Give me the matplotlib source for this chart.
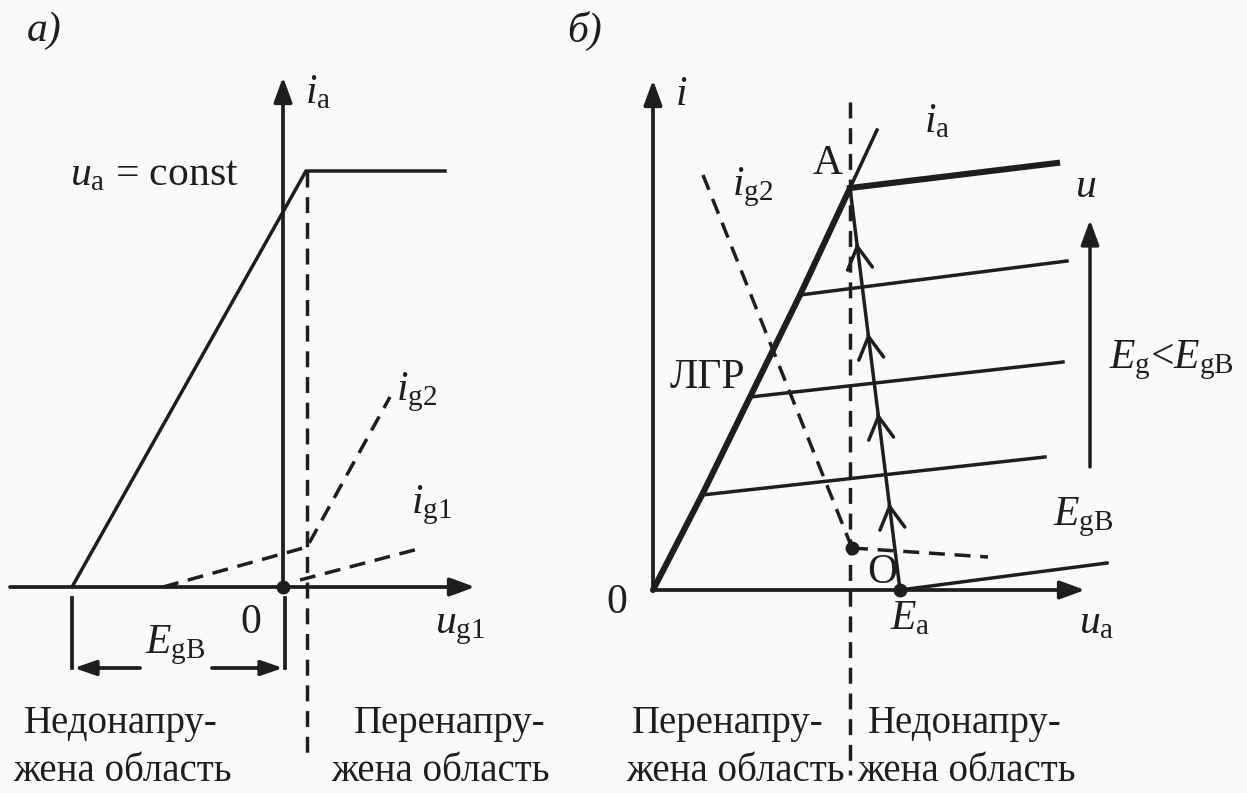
import matplotlib
matplotlib.use("Agg")
import matplotlib.pyplot as plt

plt.rcParams['font.family'] = ['Liberation Serif', 'DejaVu Serif']
plt.rcParams['mathtext.fontset'] = 'custom'
plt.rcParams['mathtext.rm'] = 'Liberation Serif'
plt.rcParams['mathtext.it'] = 'Liberation Serif:italic'

INK = '#1e1e1e'

# ---- а) characteristics vs grid voltage u_g1 (origin at u_g1 = 0) ----
a_ia_u = [-21.1, 2.3, 16.2]          # anode current i_a
a_ia_i = [0.0, 41.6, 41.6]
a_ig2_u = [-12.0, 2.4, 10.7]         # screen grid current i_g2
a_ig2_i = [0.0, 4.0, 19.0]
a_ig1_u = [1.7, 13.9]                # control grid current i_g1
a_ig1_i = [0.7, 3.9]
a_boundary_u = 2.4                   # critical mode boundary
a_egb = -21.1                        # cut-off bias E_gB

# ---- б) load diagram in (u_a, i) plane ----
b_lgr_u = [0.0, 4.9, 9.7, 14.7, 19.7]      # line of critical mode (ЛГР)
b_lgr_i = [0.0, 9.5, 19.3, 29.5, 40.2]
b_ia_ext_u = [19.7, 22.4]
b_ia_ext_i = [40.2, 46.0]
b_static_end_u = [40.4, 41.4, 41.0, 39.2]  # static curves starting on ЛГР
b_static_end_i = [42.7, 32.9, 22.8, 13.3]
b_egb_u = [24.7, 45.4]                     # static curve for E_gB
b_egb_i = [0.0, 2.7]
b_load_u = [24.7, 19.7]                    # dynamic characteristic O -> A
b_load_i = [0.0, 40.2]
b_chevron_i = [8.5, 17.5, 25.5, 34.5]
b_ig2_u = [5.0, 19.9]
b_ig2_i = [41.5, 4.2]
b_ig_dash_u = [19.9, 33.5]
b_ig_dash_i = [4.2, 3.3]
b_boundary_u = 19.7

fig = plt.figure(figsize=(12.47, 7.93), dpi=100, facecolor='#fafaf9')
ax_a = fig.add_axes([0, 0, 520 / 1247, 1])
ax_a.set_xlim(-28.3, 23.7)
ax_a.set_ylim(-20.6, 58.7)
ax_b = fig.add_axes([520 / 1247, 0, 727 / 1247, 1])
ax_b.set_xlim(-13.3, 59.4)
ax_b.set_ylim(-20.3, 59.0)
for ax in (ax_a, ax_b):
    ax.axis('off')
    ax.patch.set_alpha(0)

DASH = (0, (4.6, 2.8))
LW_AX = 2.7
LW = 2.5
LW_BOLD = 4.4


def arrow(ax, start, end, lw=LW_AX, hl=1.5, hw=0.55):
    ax.annotate('', xy=end, xytext=start,
                arrowprops=dict(arrowstyle=f'-|>,head_length={hl},head_width={hw}',
                                lw=lw, color=INK, shrinkA=0, shrinkB=0))


def txt(ax, x, y, s, size=30, **kw):
    ax.text(x, y, s, fontsize=size, color=INK, clip_on=False, **kw)


# ================= а) =================
arrow(ax_a, (-27.3, 0), (19.2, 0))
arrow(ax_a, (0, 0), (0, 51.0))
ax_a.plot(a_ia_u, a_ia_i, color=INK, lw=LW, solid_joinstyle='miter')
ax_a.plot([a_boundary_u, a_boundary_u], [a_ia_i[1], -17.5], color=INK, lw=LW, ls=DASH)
ax_a.plot(a_ig2_u, a_ig2_i, color=INK, lw=LW, ls=DASH)
ax_a.plot(a_ig1_u, a_ig1_i, color=INK, lw=LW, ls=DASH)
ax_a.plot([0], [0], 'o', ms=9, color=INK)

# E_gB dimension
for u in (a_egb, 0.2):
    ax_a.plot([u, u], [-1.1, -8.1], color=INK, lw=LW_AX)
arrow(ax_a, (-14.3, -8.1), (a_egb + 0.2, -8.1), hl=1.3, hw=0.45)
arrow(ax_a, (-7.1, -8.1), (0.0, -8.1), hl=1.3, hw=0.45)
txt(ax_a, -10.8, -5.8, r'$E_{\mathrm{gB}}$', ha='center', va='center')
txt(ax_a, -3.2, -3.6, '0', ha='center', va='center')

txt(ax_a, -25.6, 54.6, 'а)', style='italic', va='baseline')
txt(ax_a, 2.2, 49.4, r'$i_{\mathrm{a}}$', va='center')
txt(ax_a, -21.3, 40.2, r'$u_{\mathrm{a}}$ = const', va='baseline')
txt(ax_a, 11.3, 18.7, r'$i_{\mathrm{g2}}$', va='baseline')
txt(ax_a, 12.8, 7.4, r'$i_{\mathrm{g1}}$', va='baseline')
txt(ax_a, 15.2, -4.6, r'$u_{\mathrm{g1}}$', va='baseline')

txt(ax_a, -16.2, -14.6, 'Недонапру-', size=28, ha='center', va='baseline')
txt(ax_a, -16.1, -19.4, 'жена область', size=28, ha='center', va='baseline')
txt(ax_a, 16.7, -14.6, 'Перенапру-', size=28, ha='center', va='baseline')
txt(ax_a, 15.7, -19.4, 'жена область', size=28, ha='center', va='baseline')

# ================= б) =================
arrow(ax_b, (0, 0), (43.2, 0))
arrow(ax_b, (0, 0), (0, 51.0))
ax_b.plot(b_lgr_u, b_lgr_i, color=INK, lw=LW_BOLD, solid_capstyle='round')
ax_b.plot(b_ia_ext_u, b_ia_ext_i, color=INK, lw=LW)
for k in range(len(b_static_end_u)):
    u0, i0 = b_lgr_u[-1 - k], b_lgr_i[-1 - k]
    ax_b.plot([u0, b_static_end_u[k]], [i0, b_static_end_i[k]], color=INK,
              lw=LW_BOLD if k == 0 else LW)
ax_b.plot(b_egb_u, b_egb_i, color=INK, lw=LW)
ax_b.plot(b_load_u, b_load_i, color=INK, lw=LW)
ax_b.plot([b_boundary_u, b_boundary_u], [48.8, -18.5], color=INK, lw=LW, ls=DASH)
ax_b.plot(b_ig2_u, b_ig2_i, color=INK, lw=LW, ls=DASH)
ax_b.plot(b_ig_dash_u, b_ig_dash_i, color=INK, lw=LW, ls=DASH)
ax_b.plot([b_ig_dash_u[0]], [b_ig_dash_i[0]], 'o', ms=9, color=INK)
ax_b.plot([b_load_u[0]], [b_load_i[0]], 'o', ms=9, color=INK)

# direction marks along the dynamic characteristic
slope = (b_load_u[1] - b_load_u[0]) / (b_load_i[1] - b_load_i[0])
for ic in b_chevron_i:
    uc = b_load_u[0] + slope * ic
    ax_b.annotate('', xy=(uc + slope * 0.2, ic + 0.2), xytext=(uc, ic),
                  arrowprops=dict(arrowstyle='->,head_length=1.6,head_width=0.9',
                                  lw=LW, color=INK, shrinkA=0, shrinkB=0))

arrow(ax_b, (43.7, 12.3), (43.7, 37.0), lw=LW)

txt(ax_b, -8.6, 54.8, 'б)', style='italic', va='baseline')
txt(ax_b, 2.2, 49.5, r'$i$', va='center')
txt(ax_b, 17.5, 42.6, 'A', ha='center', va='center')
txt(ax_b, 28.4, 46.8, r'$i_{\mathrm{a}}$', ha='center', va='center')
txt(ax_b, 10.0, 40.3, r'$i_{\mathrm{g2}}$', ha='center', va='center')
txt(ax_b, 5.4, 21.2, 'ЛГР', ha='center', va='center')
txt(ax_b, 22.9, 1.7, 'O', ha='center', va='center')
txt(ax_b, -3.6, -1.3, '0', ha='center', va='center')
txt(ax_b, 25.7, -2.9, r'$E_{\mathrm{a}}$', ha='center', va='center')
txt(ax_b, 44.4, -3.3, r'$u_{\mathrm{a}}$', ha='center', va='center')
txt(ax_b, 43.3, 40.3, r'$u$', ha='center', va='center')
txt(ax_b, 45.6, 23.0, r'$E_{\mathrm{g}}$<$E_{\mathrm{gB}}$', va='center')
txt(ax_b, 40.0, 7.3, r'$E_{\mathrm{gB}}$', va='center')

txt(ax_b, 7.5, -14.3, 'Перенапру-', size=28, ha='center', va='baseline')
txt(ax_b, 8.2, -19.1, 'жена область', size=28, ha='center', va='baseline')
txt(ax_b, 31.2, -14.3, 'Недонапру-', size=28, ha='center', va='baseline')
txt(ax_b, 31.3, -19.1, 'жена область', size=28, ha='center', va='baseline')

fig.savefig('out.png', dpi=100, facecolor=fig.get_facecolor())
